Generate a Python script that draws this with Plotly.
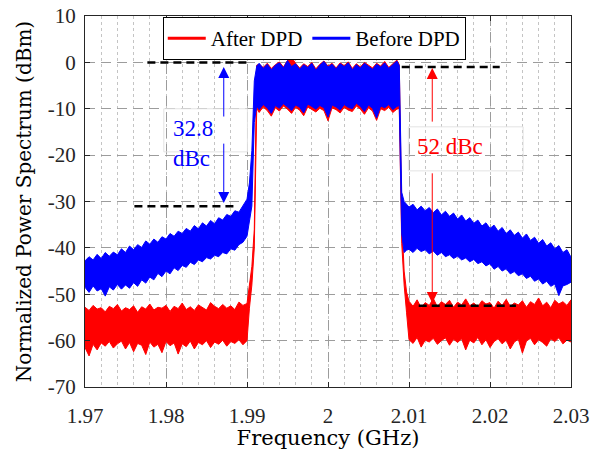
import plotly.graph_objects as go

# ---------------- data ----------------
freq = [
    1.9700, 1.9705, 1.9710, 1.9715, 1.9720, 1.9725, 1.9730, 1.9735, 1.9740, 1.9745,
    1.9750, 1.9755, 1.9760, 1.9765, 1.9770, 1.9775, 1.9780, 1.9785, 1.9790, 1.9795,
    1.9800, 1.9805, 1.9810, 1.9815, 1.9820, 1.9825, 1.9830, 1.9835, 1.9840, 1.9845,
    1.9850, 1.9855, 1.9860, 1.9865, 1.9870, 1.9875, 1.9880, 1.9885, 1.9890, 1.9895,
    1.9900, 1.9903, 1.9906, 1.9909,
    1.9912, 1.9915, 1.9920, 1.9925, 1.9930, 1.9935, 1.9940, 1.9945, 1.9950, 1.9955,
    1.9960, 1.9965, 1.9970, 1.9975, 1.9980, 1.9985, 1.9990, 1.9995, 2.0000, 2.0005,
    2.0010, 2.0015, 2.0020, 2.0025, 2.0030, 2.0035, 2.0040, 2.0045, 2.0050, 2.0055,
    2.0060, 2.0065, 2.0070, 2.0075, 2.0080, 2.0085, 2.0088,
    2.0091, 2.0094, 2.0097,
    2.0100, 2.0105, 2.0110, 2.0115, 2.0120, 2.0125, 2.0130, 2.0135, 2.0140, 2.0145,
    2.0150, 2.0155, 2.0160, 2.0165, 2.0170, 2.0175, 2.0180, 2.0185, 2.0190, 2.0195,
    2.0200, 2.0205, 2.0210, 2.0215, 2.0220, 2.0225, 2.0230, 2.0235, 2.0240, 2.0245,
    2.0250, 2.0255, 2.0260, 2.0265, 2.0270, 2.0275, 2.0280, 2.0285, 2.0290, 2.0295,
    2.0300,
]

# Before DPD: upper / lower envelope of the noisy spectrum (dBm)
before_hi = [
    -42.8, -41.9, -42.6, -41.4, -42.3, -41.0, -41.8, -40.9, -41.5, -40.2,
    -41.0, -39.6, -40.4, -39.3, -39.9, -38.5, -39.2, -38.1, -38.8, -37.6,
    -38.1, -36.9, -37.5, -36.4, -36.9, -35.8, -36.4, -35.2, -35.9, -34.6,
    -35.3, -34.1, -34.8, -33.5, -34.0, -32.8, -33.2, -32.0, -32.3, -30.8,
    -29.5, -26.0, -19.0, -4.0,
    -0.8, -0.2, -1.3, -0.4, -1.6, -0.6, -0.1, -1.2, 0.4, -0.9,
    -0.3, -1.5, -0.5, -1.1, -0.2, -1.7, -0.6, 0.2, -1.0, -0.4,
    -1.4, -0.3, -0.9, -0.1, -1.6, -0.5, -1.2, -0.2, -0.8, -1.5,
    -0.4, -1.0, -0.1, -1.3, -0.5, 0.3, -0.7,
    -28.0, -30.0, -30.5,
    -31.2, -30.6, -31.8, -31.0, -32.0, -31.3, -32.4, -31.6, -32.9, -32.1,
    -33.2, -32.5, -33.8, -32.9, -34.2, -33.5, -34.7, -34.0, -35.3, -34.6,
    -35.8, -35.1, -36.4, -35.6, -36.9, -36.1, -37.3, -36.6, -37.9, -37.0,
    -38.4, -37.7, -39.0, -38.2, -39.6, -38.9, -40.2, -39.5, -41.0, -40.4,
    -42.0,
]
before_lo = [
    -48.5, -49.6, -48.2, -49.3, -48.8, -50.4, -48.4, -49.1, -47.9, -48.9,
    -48.0, -48.7, -47.5, -48.3, -46.9, -47.6, -46.3, -46.9, -45.5, -46.2,
    -45.0, -45.6, -44.3, -44.9, -43.8, -44.2, -43.1, -43.6, -42.6, -43.0,
    -42.1, -42.4, -41.6, -41.9, -41.0, -41.3, -40.2, -40.5, -39.3, -38.8,
    -37.5, -34.0, -31.0, -13.0,
    -9.4, -10.2, -9.1, -9.8, -11.0, -9.3, -9.9, -8.9, -9.6, -10.4,
    -9.2, -9.7, -10.9, -9.0, -9.5, -10.1, -9.3, -9.8, -11.8, -9.2,
    -9.6, -10.3, -9.1, -9.7, -10.0, -8.8, -9.5, -10.6, -9.2, -9.9,
    -12.0, -9.4, -9.8, -9.1, -10.2, -9.5, -9.3,
    -37.0, -41.0, -40.5,
    -40.3, -41.0, -40.1, -40.8, -40.4, -41.3, -40.7, -41.6, -41.0, -41.9,
    -41.5, -42.3, -41.8, -42.6, -42.2, -43.0, -42.5, -43.4, -43.0, -43.9,
    -43.4, -44.6, -44.0, -45.0, -44.5, -45.6, -45.1, -46.0, -45.6, -46.6,
    -46.1, -47.2, -46.7, -47.8, -47.2, -48.3, -47.8, -50.3, -48.2, -47.9,
    -47.4,
]

# After DPD: upper / lower envelope (dBm)
after_hi = [
    -52.8, -53.5, -52.4, -53.2, -52.9, -53.8, -52.6, -53.1, -52.2, -53.6,
    -52.9, -53.3, -52.5, -53.9, -52.7, -53.2, -52.1, -53.4, -52.8, -53.0,
    -52.4, -53.7, -52.6, -53.1, -51.9, -53.3, -52.7, -53.5, -52.3, -52.9,
    -53.4, -51.8, -52.6, -53.1, -52.2, -53.0, -52.5, -53.3, -51.7, -52.4,
    -52.0, -48.0, -44.0, -36.0,
    -0.6, -0.4, -1.1, -0.2, -1.3, -0.5, 0.1, -1.0, 0.4, 1.1,
    -0.2, -1.2, -0.3, -0.9, 0.0, -1.4, -0.4, 0.3, -0.8, -0.2,
    -1.2, -0.1, -0.7, 0.1, -1.3, -0.3, -1.0, 0.0, -0.6, -1.2,
    -0.2, -0.8, 0.2, -1.1, -0.3, 0.5, -0.5,
    -33.0, -45.0, -49.5,
    -51.5, -52.6, -51.2, -52.9, -51.8, -52.4, -50.9, -52.7, -51.6, -52.2,
    -51.3, -52.8, -51.7, -52.3, -51.0, -52.5, -51.9, -52.7, -51.4, -52.1,
    -51.8, -53.0, -51.5, -52.4, -51.1, -52.6, -51.9, -52.3, -51.4, -52.8,
    -51.6, -52.2, -50.8, -52.5, -51.7, -52.9, -51.3, -52.1, -51.6, -52.4,
    -51.2,
]
after_lo = [
    -61.5, -63.3, -60.8, -62.0, -60.5, -61.2, -60.2, -61.6, -60.7, -60.1,
    -61.8, -60.4, -62.4, -60.6, -61.0, -63.0, -60.3, -61.4, -60.8, -62.6,
    -60.2, -61.1, -60.5, -62.9, -60.7, -61.3, -60.1, -61.8, -60.4, -60.9,
    -60.0, -61.5, -60.3, -60.8, -59.9, -61.2, -60.2, -60.6, -59.8, -60.9,
    -60.0, -53.0, -48.0, -40.0,
    -9.9, -10.8, -9.6, -10.4, -11.6, -9.8, -10.5, -9.4, -10.1, -11.0,
    -9.7, -10.3, -11.5, -9.6, -10.1, -10.7, -9.9, -10.4, -12.6, -9.8,
    -10.2, -10.9, -9.7, -10.3, -10.6, -9.4, -10.1, -11.2, -9.8, -10.5,
    -12.5, -10.0, -10.4, -9.7, -10.8, -10.1, -9.9,
    -39.0, -48.0, -54.0,
    -59.8, -60.6, -59.3, -61.4, -59.9, -60.3, -59.5, -60.8, -60.0, -59.4,
    -61.0, -59.7, -60.4, -59.6, -62.0, -59.9, -60.5, -59.3, -60.9, -59.8,
    -61.5, -60.2, -59.6, -60.7, -59.9, -61.8, -60.3, -59.7, -62.7, -60.1,
    -59.5, -60.9, -59.8, -60.4, -61.2, -59.6, -60.2, -59.4, -60.7, -59.9,
    -60.3,
]

# black dashed reference levels: (x start, x end, level)
ref_left_top = [1.9777, 1.9900, 0.0]
ref_left_bottom = [1.9761, 1.9884, -31.0]
ref_right_top = [2.0091, 2.0212, -1.0]
ref_right_bottom = [2.0112, 2.0232, -52.5]

# dBc markers: x, (tail, head) of upper arrow, (tail, head) of lower arrow
blue_arrow = [1.98713, -12.0, -1.0, -17.2, -30.3]
red_arrow = [2.01287, -13.1, -1.2, -23.6, -51.9]
blue_label = "32.8<br>dBc"
red_label = "52 dBc"
blue_label_pos = [1.9806, -17.4]
red_label_pos = [2.0151, -18.2]
blue_box = [1.97973, 1.99005, -10.0, -19.3]
red_box = [2.00992, 2.02409, -13.9, -23.4]

x_ticks = [1.97, 1.98, 1.99, 2.00, 2.01, 2.02, 2.03]
x_ticktext = ["1.97", "1.98", "1.99", "2", "2.01", "2.02", "2.03"]
y_ticks = [-70, -60, -50, -40, -30, -20, -10, 0, 10]
y_ticktext = ["-70", "-60", "-50", "-40", "-30", "-20", "-10", "0", "10"]

RED = "#ff0000"
BLUE = "#0000ff"
SERIF = "Liberation Serif"
TITLE_FONT = "DejaVu Serif"
AXC = "#262626"

fig = go.Figure()

# spectra as filled envelopes
fig.add_trace(go.Scatter(
    x=freq + freq[::-1], y=after_hi + after_lo[::-1],
    mode="lines", fill="toself", fillcolor=RED,
    line=dict(color=RED, width=1), legendgroup="after",
    showlegend=False, hoverinfo="skip"))
fig.add_trace(go.Scatter(
    x=freq + freq[::-1], y=before_hi + before_lo[::-1],
    mode="lines", fill="toself", fillcolor=BLUE,
    line=dict(color=BLUE, width=1), legendgroup="before",
    showlegend=False, hoverinfo="skip"))

# legend entries
fig.add_trace(go.Scatter(x=[None], y=[None], mode="lines", name="After DPD",
                         legendgroup="after", line=dict(color=RED, width=3)))
fig.add_trace(go.Scatter(x=[None], y=[None], mode="lines", name="Before DPD",
                         legendgroup="before", line=dict(color=BLUE, width=3)))

# reference dashed lines
for ref in (ref_left_top, ref_left_bottom, ref_right_top, ref_right_bottom):
    fig.add_trace(go.Scatter(
        x=[ref[0], ref[1]], y=[ref[2], ref[2]], mode="lines",
        line=dict(color="black", width=2.5, dash="8px,5px"),
        showlegend=False, hoverinfo="skip"))

annotations = []
for arr, col in ((blue_arrow, BLUE), (red_arrow, RED)):
    xa = arr[0]
    for tail, head in ((arr[1], arr[2]), (arr[3], arr[4])):
        annotations.append(dict(
            x=xa, y=head, ax=xa, ay=tail, xref="x", yref="y",
            axref="x", ayref="y", text="", showarrow=True,
            arrowhead=2, arrowsize=2.2, arrowwidth=1, arrowcolor=col,
            standoff=0, startstandoff=0))

annotations.append(dict(
    x=blue_label_pos[0], y=blue_label_pos[1], xref="x", yref="y",
    text=blue_label, showarrow=False, xanchor="left", yanchor="middle",
    align="left", font=dict(family=SERIF, size=23, color=BLUE)))
annotations.append(dict(
    x=red_label_pos[0], y=red_label_pos[1], xref="x", yref="y",
    text=red_label, showarrow=False, xanchor="center", yanchor="middle",
    font=dict(family=SERIF, size=23, color=RED)))

shapes = []
for b in (blue_box, red_box):
    shapes.append(dict(type="rect", xref="x", yref="y",
                       x0=b[0], x1=b[1], y0=b[3], y1=b[2],
                       line=dict(color="#e3e3e3", width=1),
                       fillcolor="rgba(0,0,0,0)", layer="above"))

fig.update_layout(
    width=590, height=450,
    margin=dict(l=85, r=19, t=16, b=63),
    paper_bgcolor="white", plot_bgcolor="white",
    annotations=annotations, shapes=shapes,
    legend=dict(orientation="h", x=0.160, y=0.997, xanchor="left",
                yanchor="top", bgcolor="white", bordercolor="black",
                borderwidth=1, font=dict(family=SERIF, size=21, color="black"),
                tracegroupgap=0, itemwidth=38),
    xaxis=dict(
        range=[1.97, 2.03], tickvals=x_ticks, ticktext=x_ticktext,
        ticks="inside", ticklen=5, tickcolor=AXC, showline=True,
        linecolor=AXC, linewidth=1, mirror="ticks", zeroline=False,
        automargin=False, ticklabelstandoff=10,
        showgrid=True, gridcolor="#9c9c9c", griddash="10px,6px", gridwidth=1,
        minor=dict(dtick=0.002, tick0=1.97, showgrid=True, griddash="dot",
                   gridcolor="#c4c4c4", gridwidth=1),
        tickfont=dict(family=SERIF, size=21, color=AXC),
        title=dict(text="Frequency (GHz)", standoff=4,
                   font=dict(family=TITLE_FONT, size=21, color="black")),
    ),
    yaxis=dict(
        range=[-70, 10], tickvals=y_ticks, ticktext=y_ticktext,
        ticks="inside", ticklen=5, tickcolor=AXC, showline=True,
        linecolor=AXC, linewidth=1, mirror="ticks", zeroline=False,
        automargin=False, ticklabelstandoff=4,
        showgrid=True, gridcolor="#9c9c9c", griddash="10px,6px", gridwidth=1,
        tickfont=dict(family=SERIF, size=21, color=AXC),
        title=dict(text="Normalized Power Spectrum (dBm)", standoff=10,
                   font=dict(family=TITLE_FONT, size=20, color="black")),
    ),
)

fig.write_html(
    "out.html",
    config={"displayModeBar": False},
    post_script="document.body.style.margin='0px';"
                "document.body.style.overflow='hidden';",
)
